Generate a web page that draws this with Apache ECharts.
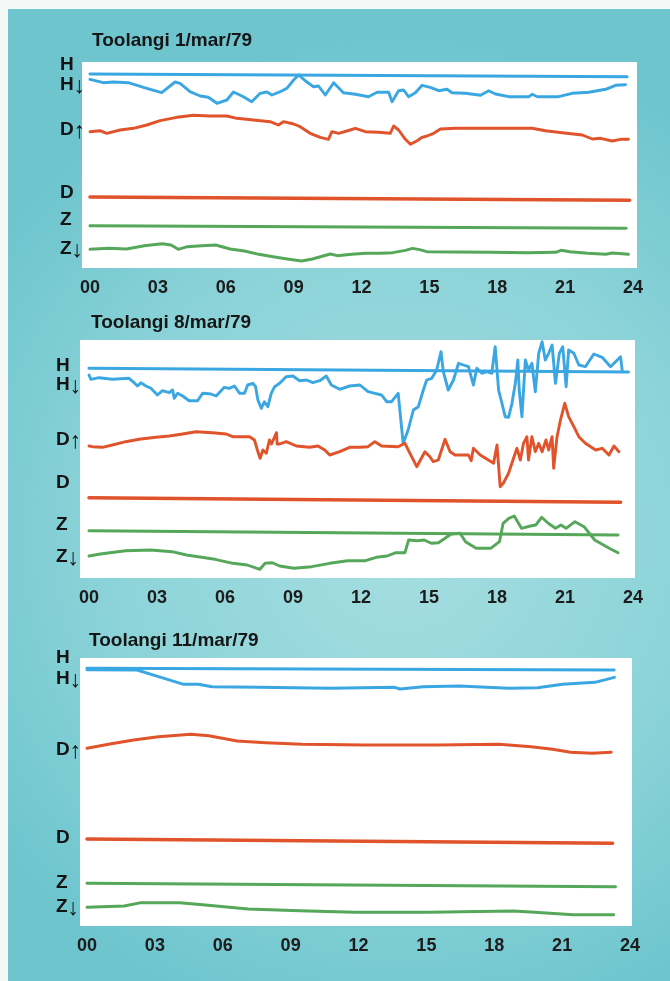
<!DOCTYPE html>
<html>
<head>
<meta charset="utf-8">
<script src="https://cdn.jsdelivr.net/npm/echarts@6/dist/echarts.min.js"></script>
<style>
  html, body { margin: 0; padding: 0; }
  #chart { width: 670px; height: 981px; }
</style>
</head>
<body>
<div id="chart"></div>
<script>
// Toolangi magnetograms: H, D and Z traces with their baselines, hours 00-24 (UT).
// Trace values are recorder deflections, measured downward from the top of each record.

const hourTicks = ['00', '03', '06', '09', '12', '15', '18', '21', '24'];
const titles = ['Toolangi 1/mar/79', 'Toolangi 8/mar/79', 'Toolangi 11/mar/79'];
const traceLetters = ['H', 'H', 'D', 'D', 'Z', 'Z'];
const traceArrows = ['', '↓', '↑', '', '', '↓'];

// ---- 1 March 1979 ----
const hBase1 = [[0, 12], [23.74, 14.7]];
const h1 = [[0, 17.3], [0.59, 20.7], [1.03, 20], [1.69, 20.7], [2.51, 26.3], [3.17, 30.7], [3.76, 20], [3.98, 21.3],
  [4.42, 29.7], [4.87, 34], [5.23, 35.3], [5.61, 41.3], [6.05, 38], [6.34, 30], [6.78, 34.7], [7.15, 39.7],
  [7.52, 31.3], [7.82, 30], [8.04, 33], [8.41, 29.7], [8.7, 26.3], [9.0, 18], [9.22, 13], [9.51, 18.7],
  [9.88, 24.7], [10.1, 24], [10.4, 33], [10.77, 20.7], [11.2, 30.7], [11.73, 32.3], [12.31, 34.7], [12.69, 30.3],
  [13.2, 30.3], [13.35, 39.7], [13.64, 28.7], [13.86, 28], [14.08, 34.7], [14.38, 30.7], [14.68, 23.3], [15.04, 25.3],
  [15.41, 28.7], [15.78, 27.3], [16.0, 30.7], [16.59, 31.3], [17.26, 33.3], [17.62, 28.7], [17.92, 32], [18.51, 34.7],
  [19.4, 34.7], [19.54, 32.3], [19.77, 34.7], [20.72, 34.7], [21.31, 31.3], [22.05, 30.3], [22.79, 27.3], [23.23, 23.3],
  [23.67, 22.7]];
const d1 = [[0, 69.7], [0.44, 68.7], [0.74, 71.3], [1.33, 68], [1.92, 66.3], [2.51, 63], [3.1, 58.7], [3.84, 55.3],
  [4.57, 53.3], [5.31, 54], [6.05, 54], [6.49, 56.3], [7.23, 58], [7.96, 59.7], [8.33, 63], [8.55, 59.7],
  [9.0, 62], [9.29, 64.7], [9.73, 71.3], [10.18, 75.3], [10.54, 77.3], [10.69, 69.7], [10.99, 71.3], [11.5, 68],
  [11.73, 66.3], [12.17, 69.7], [12.76, 70.3], [13.27, 71.3], [13.42, 64], [13.64, 68], [13.94, 77.3], [14.16, 82.3],
  [14.46, 78.7], [14.68, 75.3], [14.9, 74], [15.19, 71.3], [15.49, 67], [16.15, 66.3], [17.62, 66.3], [19.54, 66.3],
  [20.13, 68.7], [20.87, 70.7], [21.76, 73], [22.2, 77], [22.57, 76.3], [23.08, 79], [23.45, 77.3], [23.8, 77.3]];
const dBase1 = [[0, 135], [23.85, 138.3]];
const zBase1 = [[0, 163.7], [23.7, 166.3]];
const z1 = [[0, 187.3], [0.82, 186.3], [1.61, 187], [2.4, 183.7], [3.19, 181.7], [3.58, 183], [3.9, 187.3], [4.3, 184.7],
  [4.93, 183.7], [5.56, 183], [6.19, 187], [6.83, 189], [7.46, 192.3], [8.09, 194.7], [8.72, 197], [9.35, 199],
  [9.83, 197], [10.46, 193], [10.62, 192], [10.93, 193.7], [11.57, 192.3], [12.2, 191.3], [12.83, 191.3], [13.38, 190.7],
  [13.46, 189], [13.94, 188.3], [14.25, 186.3], [14.57, 187.7], [14.89, 189.7], [16.15, 190], [17.73, 190.3], [19.31, 190.7],
  [20.58, 190.3], [20.82, 188.3], [21.21, 189.7], [22.0, 191.3], [22.79, 192.3], [23.1, 191], [23.8, 192.3]];

// ---- 8 March 1979 ----
const hBase8 = [[0, 28.3], [23.8, 32]];
const h8 = [[0, 35], [0.08, 39.3], [0.44, 37.7], [1.03, 39.3], [1.77, 38.3], [1.99, 42.7], [2.14, 46], [2.29, 42.7],
  [2.51, 46], [2.73, 48.3], [3.02, 55], [3.24, 50.7], [3.54, 52.7], [3.69, 50], [3.76, 58.3], [3.91, 53.3],
  [4.13, 56], [4.42, 60.7], [4.79, 60.7], [5.01, 53.3], [5.38, 54], [5.61, 56], [5.97, 47.3], [6.19, 48.3],
  [6.42, 46], [6.64, 53.3], [6.86, 53.3], [7.0, 45], [7.23, 43.3], [7.35, 46.7], [7.45, 60], [7.6, 68.3],
  [7.74, 61.7], [7.89, 66.7], [8.04, 53.3], [8.19, 46.7], [8.41, 43.3], [8.7, 36.7], [9.0, 36], [9.29, 40.7],
  [9.59, 40], [9.88, 42.7], [10.18, 40.7], [10.47, 36], [10.69, 45], [11.06, 49.3], [11.5, 46], [11.95, 45],
  [12.02, 46.7], [12.31, 51.7], [12.61, 53.3], [12.91, 55], [13.13, 61.7], [13.35, 61.7], [13.64, 53.3], [13.86, 103.3],
  [14.08, 90], [14.31, 70], [14.53, 66.7], [14.75, 50], [14.9, 40], [15.12, 38.3], [15.34, 30], [15.53, 11.7],
  [15.63, 31.7], [15.85, 50], [16.08, 40], [16.3, 23.3], [16.52, 25], [16.74, 26.7], [16.96, 45], [17.11, 28.3],
  [17.33, 33.3], [17.55, 31.7], [17.77, 33.3], [17.92, 6.7], [18.07, 50], [18.22, 63.3], [18.36, 76.7], [18.51, 77.3],
  [18.66, 63.3], [18.81, 43.3], [18.92, 20], [18.98, 50], [19.1, 76.7], [19.25, 20], [19.39, 30], [19.54, 23.3],
  [19.69, 51.7], [19.84, 13.3], [19.99, 1.7], [20.13, 20], [20.28, 13.3], [20.43, 5], [20.58, 43.3], [20.75, 13.3],
  [20.9, 6.7], [21.05, 46.7], [21.16, 10], [21.39, 13.3], [21.61, 25], [21.9, 26.7], [22.27, 14], [22.64, 17.3],
  [23.01, 26.7], [23.45, 16.7], [23.53, 31.7]];
const d8 = [[0, 106], [0.15, 106.7], [0.59, 107.3], [1.03, 105], [1.62, 101.7], [2.21, 99.3], [2.95, 97.3], [3.54, 96],
  [4.13, 94], [4.72, 91.7], [5.45, 92.7], [6.05, 94], [6.34, 96.7], [7.08, 96.7], [7.3, 100], [7.45, 111.7],
  [7.55, 118.3], [7.67, 110], [7.82, 113.3], [7.96, 100], [8.05, 104], [8.27, 92.7], [8.3, 104], [8.41, 104],
  [8.7, 101.7], [9.15, 106], [9.73, 107.3], [10.1, 106], [10.4, 110], [10.62, 115], [11.06, 111.7], [11.5, 107.3],
  [11.95, 107.3], [12.31, 106.7], [12.61, 101.7], [12.91, 106], [13.64, 106.7], [13.94, 103.3], [14.16, 113.3], [14.46, 126.7],
  [14.82, 111.7], [15.04, 116.7], [15.19, 121.7], [15.41, 120], [15.71, 99.3], [15.93, 111.7], [16.15, 115], [16.74, 115],
  [16.86, 120.7], [16.96, 108.3], [17.26, 115], [17.62, 120], [17.85, 123.3], [18.0, 105], [18.14, 146.7], [18.29, 142.7],
  [18.51, 133.3], [18.73, 118.3], [18.88, 108.3], [19.03, 120], [19.17, 103.3], [19.32, 96.7], [19.39, 120], [19.54, 96.7],
  [19.69, 111.7], [19.84, 103.3], [19.99, 111.7], [20.16, 100], [20.28, 110], [20.43, 96.7], [20.5, 128.3], [20.65, 96.7],
  [20.8, 80], [20.99, 63.3], [21.16, 76.7], [21.39, 86.7], [21.61, 96.7], [21.9, 103.3], [22.35, 110], [22.64, 108.3],
  [22.94, 115], [23.16, 106], [23.38, 111.7]];
const dBase8 = [[0, 157.7], [23.45, 162.3]];
const zBase8 = [[0, 190.7], [23.34, 195]];
const z8 = [[0, 216], [0.5, 214], [1.61, 210.7], [2.72, 210], [3.67, 211.7], [4.3, 215], [5.56, 219.3], [6.35, 223.3],
  [6.98, 225], [7.54, 229.3], [7.77, 223.3], [8.09, 222.7], [8.41, 226], [9.04, 228.3], [9.83, 226.7], [10.62, 223.3],
  [11.41, 220.7], [12.2, 220.7], [12.67, 217.3], [13.15, 216], [13.54, 212.7], [13.94, 212.7], [14.1, 200], [14.47, 200.7],
  [14.79, 200], [15.1, 203.3], [15.42, 202.7], [15.98, 194], [16.37, 193.3], [16.61, 201.7], [17.08, 208.3], [17.72, 208.3],
  [18.11, 201.7], [18.27, 183.3], [18.52, 178.3], [18.76, 176], [19.08, 188.3], [19.47, 186], [19.71, 185], [19.97, 177.3],
  [20.26, 183.3], [20.58, 188.3], [20.82, 185], [21.05, 188.3], [21.44, 181.7], [21.84, 186.7], [22.31, 200], [22.95, 208.3],
  [23.34, 212.7]];

// ---- 11 March 1979 ----
const hBase11 = [[0, 10.3], [23.3, 12]];
const h11 = [[0, 11.7], [2.21, 12], [3.16, 18.7], [4.27, 26.3], [4.91, 26.3], [5.53, 28.7], [7.59, 29.3], [10.75, 30.3],
  [13.6, 29.3], [13.83, 31], [14.86, 28.7], [16.44, 28], [18.65, 30.3], [19.92, 29.7], [21.02, 26.3], [22.45, 24.3],
  [23.31, 19.3]];
const d11 = [[0, 90.3], [0.95, 86.3], [2.06, 82], [3.16, 78.7], [4.59, 76.3], [5.38, 77.7], [6.64, 83], [7.9, 84.7],
  [9.49, 86.3], [12.33, 87], [15.49, 87], [18.21, 86.3], [19.63, 88.7], [20.58, 91.3], [21.37, 94.3], [22.32, 95.3],
  [23.17, 94.3]];
const dBase11 = [[0, 181], [23.23, 185.3]];
const zBase11 = [[0, 225.3], [23.36, 228.7]];
const z11 = [[0, 249.3], [1.64, 248], [2.39, 244.7], [4.09, 244.7], [5.23, 247], [7.12, 251], [9.39, 252.7], [11.84, 254.3],
  [15.07, 254.3], [18.84, 253], [19.79, 254.3], [21.49, 256.7], [23.28, 256.7]];

// ---- styling and layout ----
const COLORS = { H: '#3aa7e2', D: '#e1532a', Z: '#55a75a' };
const FONT = "'Liberation Sans', Arial, sans-serif";
const TICK_FONT = "'Liberation Sans Narrow', 'Liberation Sans', Arial, sans-serif";

const panels = [
  { title: titles[0], titleX: 92, titleY: 41, grid: { left: 90, right: 37, top: 62, height: 206 },
    paper: { x: 82, y: 62, width: 555, height: 206 }, labelX: 60,
    labelY: [65, 85, 130, 193, 220, 249],
    traces: [[hBase1, 'H', 3], [h1, 'H', 2.9], [d1, 'D', 2.9], [dBase1, 'D', 3.6], [zBase1, 'Z', 3], [z1, 'Z', 2.9]] },
  { title: titles[1], titleX: 91, titleY: 323, grid: { left: 89, right: 37, top: 340, height: 238 },
    paper: { x: 80, y: 340, width: 555, height: 238 }, labelX: 56,
    labelY: [366, 385, 440, 483, 525, 557],
    traces: [[hBase8, 'H', 3], [h8, 'H', 2.9], [d8, 'D', 2.9], [dBase8, 'D', 3.6], [zBase8, 'Z', 3], [z8, 'Z', 2.9]] },
  { title: titles[2], titleX: 89, titleY: 641, grid: { left: 87, right: 40, top: 658, height: 268 },
    paper: { x: 80, y: 658, width: 552, height: 268 }, labelX: 56,
    labelY: [658, 679, 750, 838, 883, 907],
    traces: [[hBase11, 'H', 3], [h11, 'H', 2.9], [d11, 'D', 2.9], [dBase11, 'D', 3.6], [zBase11, 'Z', 3], [z11, 'Z', 2.9]] }
];

const grids = [], xAxes = [], yAxes = [], series = [];
const graphics = [
  // teal mount behind the three records
  { type: 'rect', z: -20, shape: { x: 0, y: 0, width: 670, height: 981 },
    style: { fill: new echarts.graphic.RadialGradient(0.6, 0.55, 0.75, [
      { offset: 0, color: '#a6dee1' }, { offset: 0.6, color: '#8bd3d8' }, { offset: 1, color: '#6ec5ce' }]) } },
  { type: 'rect', z: -19, shape: { x: 0, y: 0, width: 670, height: 9 }, style: { fill: '#f4f8f7' } },
  { type: 'rect', z: -19, shape: { x: 0, y: 0, width: 8, height: 981 }, style: { fill: '#f4f8f7' } }
];

const labelRich = {
  l: { font: 'bold 19px ' + FONT, fill: '#141414' },
  a: { font: 'bold 23px ' + FONT, fill: '#141414', padding: [3, 0, 0, 0] }
};

panels.forEach((p, i) => {
  grids.push(Object.assign({ containLabel: false, show: false }, p.grid));
  xAxes.push({
    type: 'value', gridIndex: i, min: 0, max: 24, interval: 3,
    axisLine: { show: false }, axisTick: { show: false }, splitLine: { show: false },
    axisLabel: {
      margin: 11, color: '#1c1c1c', fontWeight: 'bold', fontSize: 18, fontFamily: TICK_FONT,
      formatter: v => hourTicks[Math.round(v / 3)]
    }
  });
  yAxes.push({
    type: 'value', gridIndex: i, inverse: true, min: 0, max: p.grid.height,
    axisLine: { show: false }, axisTick: { show: false }, splitLine: { show: false },
    axisLabel: { show: false }
  });
  graphics.push({ type: 'rect', z: -10, shape: p.paper, style: { fill: '#ffffff' } });
  graphics.push({ type: 'text', z: 10, x: p.titleX, y: p.titleY,
    style: { text: p.title, font: 'bold 19px ' + FONT, fill: '#161616', verticalAlign: 'middle' } });
  traceLetters.forEach((letter, k) => {
    const text = '{l|' + letter + '}' + (traceArrows[k] ? '{a|' + traceArrows[k] + '}' : '');
    graphics.push({ type: 'text', z: 10, x: p.labelX, y: p.labelY[k],
      style: { text: text, rich: labelRich, verticalAlign: 'middle' } });
  });
  p.traces.forEach(([data, comp, width]) => {
    series.push({
      type: 'line', xAxisIndex: i, yAxisIndex: i, data: data,
      symbol: 'none', silent: true, clip: false,
      lineStyle: { color: COLORS[comp], width: width, join: 'round', cap: 'round' }
    });
  });
});

const chart = echarts.init(document.getElementById('chart'), null, { renderer: 'canvas' });
chart.setOption({
  animation: false,
  grid: grids, xAxis: xAxes, yAxis: yAxes, series: series,
  graphic: graphics
});
</script>
</body>
</html>
